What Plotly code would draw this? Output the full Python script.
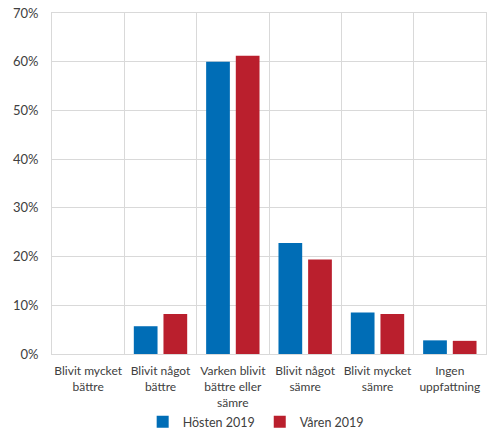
import plotly.graph_objects as go

categories = ["Blivit mycket<br>bättre", "Blivit något<br>bättre", "Varken blivit<br>bättre eller<br>sämre",
              "Blivit något<br>sämre", "Blivit mycket<br>sämre", "Ingen<br>uppfattning"]
hosten = [0, 5.7, 60.0, 22.8, 8.5, 2.8]
varen = [0, 8.2, 61.2, 19.4, 8.2, 2.7]
series_names = ["Hösten 2019", "Våren 2019"]
tick_vals = [0, 10, 20, 30, 40, 50, 60, 70]
tick_text = [f"{v}%" for v in tick_vals]

font = "Lato, Carlito, Calibri, sans-serif"
fig = go.Figure()
fig.add_trace(go.Bar(x=categories, y=hosten, name=series_names[0], marker_color="#006DB6",
                     marker_line_width=0))
fig.add_trace(go.Bar(x=categories, y=varen, name=series_names[1], marker_color="#BA1F2D",
                     marker_line_width=0))

fig.update_layout(
    width=487, height=435,
    margin=dict(l=52, r=1, t=13, b=81),
    plot_bgcolor="white", paper_bgcolor="white",
    barmode="group", bargap=0.18, bargroupgap=0.2,
    font=dict(family=font, size=12, color="#404040"),
    legend=dict(orientation="h", x=0.525, xanchor="center", xref="container",
                y=0.064, yanchor="top", yref="container",
                font=dict(size=12.5, color="#404040"), itemwidth=30, traceorder="normal",
                tracegroupgap=0),
    xaxis=dict(type="category", tickson="boundaries", showgrid=True, gridcolor="#D9D9D9",
               gridwidth=1, showline=True, linecolor="#D9D9D9", mirror=True, ticks="",
               tickangle=0, automargin=False, ticklabelstandoff=6,
               tickfont=dict(size=12, color="#404040")),
    yaxis=dict(range=[0, 70], tickvals=tick_vals, ticktext=tick_text, showgrid=True,
               gridcolor="#D9D9D9", gridwidth=1, showline=True, linecolor="#D9D9D9", mirror=True,
               ticks="", ticklabelstandoff=10, zeroline=False, automargin=False,
               tickfont=dict(size=13, color="#404040")),
)
fig.write_html("out.html")
